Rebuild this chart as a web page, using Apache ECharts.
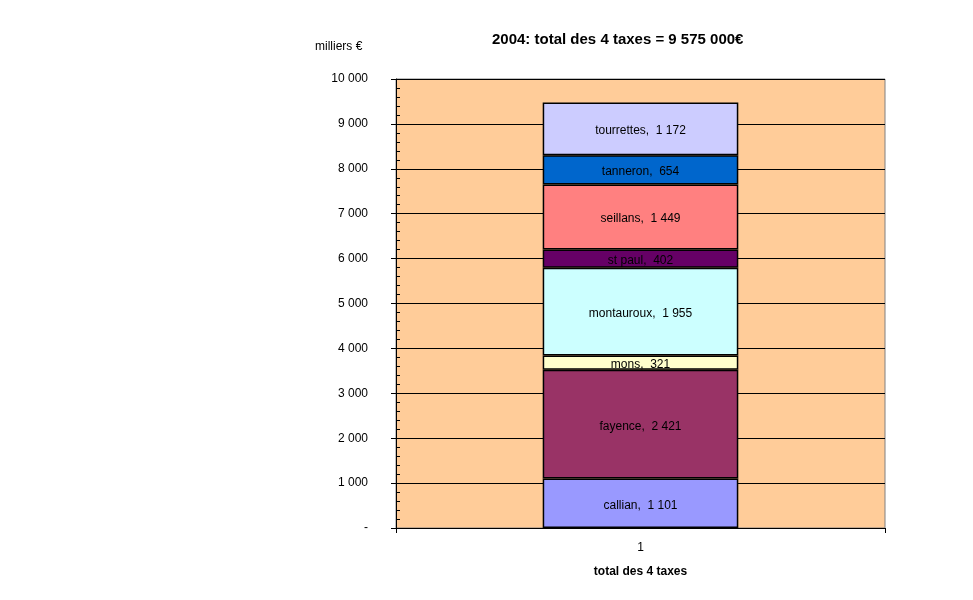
<!DOCTYPE html>
<html><head><meta charset="utf-8">
<script src="https://cdn.jsdelivr.net/npm/echarts@6/dist/echarts.min.js"></script>
<style>html,body{margin:0;padding:0;background:#fff}#c{width:973px;height:600px}</style>
</head><body><div id="c"></div>
<script>
const categories = ['1'];
const communes = ['callian','fayence','mons','montauroux','st paul','seillans','tanneron','tourrettes'];
const values = [1101, 2421, 321, 1955, 402, 1449, 654, 1172];
const colors = ['#9999FF','#993366','#FFFFCC','#CCFFFF','#660066','#FF8080','#0066CC','#CCCCFF'];
const yTicks = [0,1000,2000,3000,4000,5000,6000,7000,8000,9000,10000];

function fmt(v){ return v === 0 ? '-' : String(v).replace(/\B(?=(\d{3})+(?!\d))/g, ' '); }

const chart = echarts.init(document.getElementById('c'));
const FONT = 'Arial, "Liberation Sans", sans-serif';
chart.setOption({
  animation: false,
  title: { text: '2004: total des 4 taxes = 9 575 000€', left: 487, top: 27,
    textStyle: { fontFamily: FONT, fontSize: 15, fontWeight: 'bold', color: '#000' } },
  graphic: [{ type: 'text', left: 315, top: 41, style: { text: 'milliers €', font: '12px ' + FONT, fill: '#000' } }],
  grid: { left: 396, right: 88, top: 79, bottom: 72, show: true, backgroundColor: '#FFCC99', borderColor: '#808080', borderWidth: 1 },
  xAxis: { type: 'category', data: categories, name: 'total des 4 taxes', nameLocation: 'middle', nameGap: 38,
    nameTextStyle: { fontFamily: FONT, fontSize: 12, fontWeight: 'bold', color: '#000' },
    axisLine: { lineStyle: { color: '#000', width: 1 } },
    axisTick: { show: true, length: 5, lineStyle: { color: '#000' } },
    axisLabel: { fontFamily: FONT, fontSize: 12, color: '#000', margin: 14 } },
  yAxis: [{ type: 'value', min: yTicks[0], max: yTicks[yTicks.length-1], interval: 1000,
    axisLine: { show: true, lineStyle: { color: '#000' } },
    axisTick: { show: true, length: 5, lineStyle: { color: '#000' } },
    splitLine: { show: true, lineStyle: { color: '#000', width: 1 } },
    axisLabel: { fontFamily: FONT, fontSize: 12, color: '#000', margin: 28, formatter: fmt } },
   { type: 'value', min: 0, max: 10000, interval: 200, position: 'left',
    axisLine: { show: false }, splitLine: { show: false }, axisLabel: { show: false },
    axisTick: { show: true, inside: true, length: 4, lineStyle: { color: '#000' } } }],
  series: communes.map((n, i) => ({
    name: n, type: 'bar', stack: 'total', barWidth: '40%',
    data: [values[i]],
    itemStyle: { color: colors[i], borderColor: '#000', borderWidth: 1.5 },
    label: { show: true, position: 'inside', formatter: n + ',  ' + fmt(values[i]), offset: [0, 2],
      fontFamily: FONT, fontSize: 12, color: '#000' }
  }))
});
</script></body></html>
